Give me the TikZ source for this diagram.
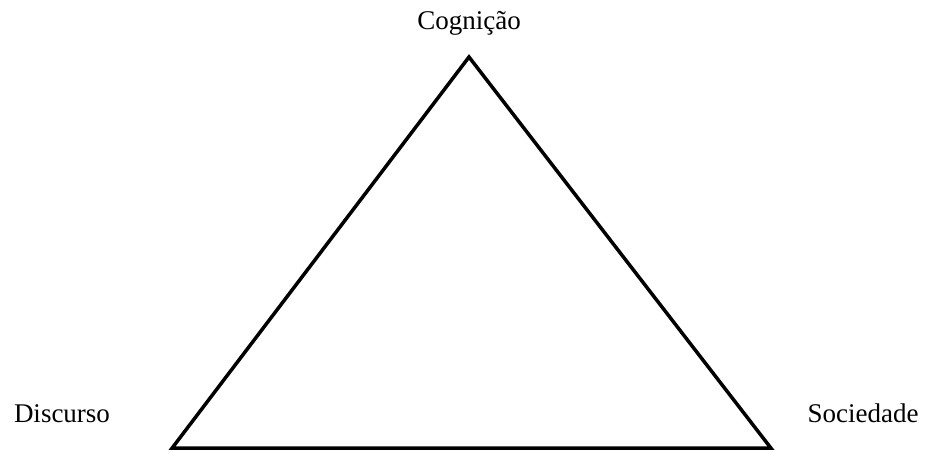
\documentclass[tikz,border=0pt]{standalone}
\usepackage{fontspec}
\setmainfont{Liberation Serif}
\begin{document}
\begin{tikzpicture}[x=1pt,y=1pt,
  lbl/.style={font=\fontsize{27}{30}\selectfont, inner sep=0pt, anchor=base},
  tri/.style={draw=black, line width=3.5pt, line join=miter}]
\useasboundingbox (0,0) rectangle (929,451);
\coordinate (top) at (469,394);
\coordinate (bl) at (172,2.8);
\coordinate (br) at (771,2.8);
\draw[tri] (top) -- (bl) -- (br) -- cycle;
\node[lbl] (cog) at (469,421) {Cognição};
\node[lbl] (dis) at (62,29) {Discurso};
\node[lbl] (soc) at (863,29) {Sociedade};
\end{tikzpicture}
\end{document}
